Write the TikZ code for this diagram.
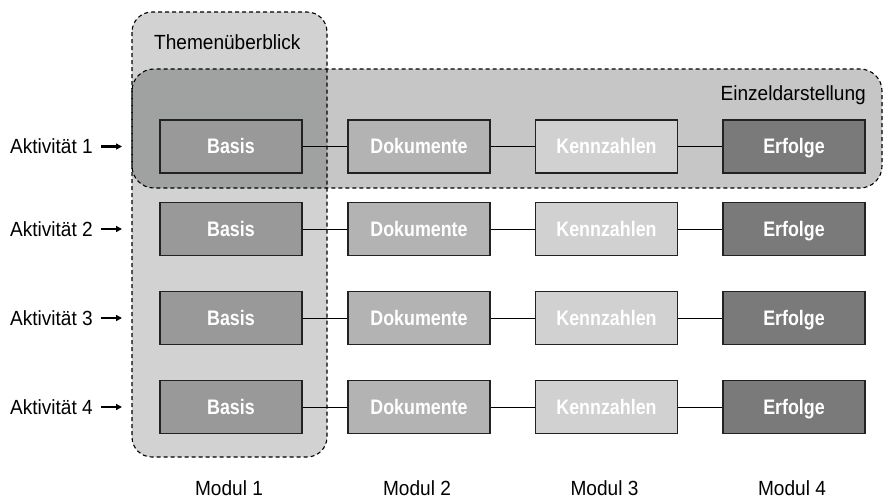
\documentclass[tikz,border=0pt]{standalone}
\usepackage{fontspec}
\setmainfont{Liberation Sans}[FakeStretch=0.93]
\newfontfamily\boxfont{Liberation Sans}[FakeStretch=0.85]
\usetikzlibrary{arrows.meta}
\definecolor{cBasis}{HTML}{999999}
\definecolor{cDok}{HTML}{B3B3B3}
\definecolor{cKenn}{HTML}{D1D1D1}
\definecolor{cErf}{HTML}{7A7A7A}
\definecolor{cThema}{HTML}{D2D2D2}
\definecolor{cEinzel}{HTML}{C6C6C6}
\definecolor{cBoth}{HTML}{A0A1A1}
\definecolor{cEdge}{HTML}{222222}
\tikzset{
  modbox/.style={draw=cEdge, line width=1.1pt, minimum width=142pt, minimum height=53pt,
    inner sep=0pt, text height=14.5pt, text depth=0pt, text=white,
    font=\boxfont\bfseries\fontsize{21}{24}\selectfont},
  basis/.style={modbox, fill=cBasis},
  dok/.style={modbox, fill=cDok},
  kenn/.style={modbox, fill=cKenn},
  erf/.style={modbox, fill=cErf},
  link/.style={draw=black, line width=0.9pt},
  group/.style={draw=black, dashed, dash pattern=on 4pt off 3pt, line width=1.1pt},
  lbl/.style={font=\fontsize{20.5}{24}\selectfont, inner sep=0pt, text height=14pt, text depth=0pt},
  pointer/.style={-{Triangle[length=6pt,width=6pt]}, line width=2.6pt}
}
\begin{document}
\begin{tikzpicture}[x=1pt,y=-1pt]
\useasboundingbox (0,0) rectangle (884,499);
% group areas
\def\themapath{(132,12) rectangle (327,457)}
\def\einzelpath{(132,69) rectangle (882,188)}
\fill[cThema, rounded corners=20pt] \themapath;
\fill[cEinzel, rounded corners=22pt] \einzelpath;
\begin{scope}
  \clip[rounded corners=22pt] \einzelpath;
  \fill[cBoth, rounded corners=20pt] \themapath;
\end{scope}
\draw[group, rounded corners=20pt] \themapath;
\draw[group, rounded corners=22pt] \einzelpath;
\node[lbl, anchor=west] (thema) at (154,42) {Themenüberblick};
\node[lbl, anchor=east] (einzel) at (866,93) {Einzeldarstellung};
% module rows
\foreach \r/\y in {1/146.5, 2/229, 3/318, 4/407}{
  \node[basis] (b\r) at (231,\y) {Basis};
  \node[dok]   (d\r) at (419,\y) {Dokumente};
  \node[kenn]  (k\r) at (606.5,\y) {Kennzahlen};
  \node[erf]   (e\r) at (794,\y) {Erfolge};
  \draw[link] (b\r) -- (d\r);
  \draw[link] (d\r) -- (k\r);
  \draw[link] (k\r) -- (e\r);
  \node[lbl, anchor=east] (a\r) at (93,\y) {Aktivität \r};
  \coordinate (t\r) at (122,\y);
  \draw[pointer] ([xshift=8pt]a\r.east) -- (t\r);
}
% column captions
\foreach \c/\x in {1/229, 2/417, 3/604.5, 4/792}{
  \node[lbl] (m\c) at (\x,488) {Modul \c};
}
\end{tikzpicture}
\end{document}
